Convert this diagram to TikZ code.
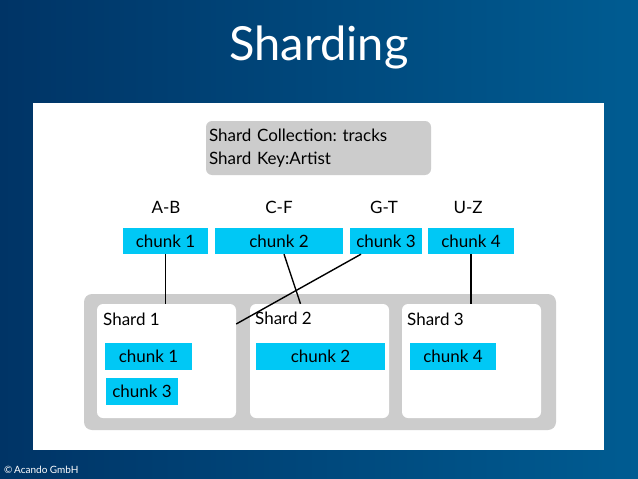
\documentclass[tikz,border=0pt]{standalone}
\usepackage{fontspec}
\setmainfont{Lato}
\usetikzlibrary{positioning}
\frenchspacing
\definecolor{bgdark}{RGB}{0,52,102}
\definecolor{bglight}{RGB}{0,92,146}
\definecolor{chunkblue}{RGB}{0,200,245}
\definecolor{boxgray}{RGB}{204,204,204}
\tikzset{
  txt/.style={font=\fontsize{17}{23}\selectfont},
  chunk/.style={txt,fill=chunkblue,minimum height=26pt,inner sep=0pt},
  shard/.style={fill=white,rounded corners=6pt,minimum width=139pt,minimum height=114pt,inner sep=0pt},
  lbl/.style={txt,inner sep=0pt,anchor=west},
  link/.style={line width=1.4pt}
}
\begin{document}
\begin{tikzpicture}[x=1pt,y=-1pt]
  \shade[left color=bgdark,right color=bglight] (0,0) rectangle (638,479);
  \fill[white] (33,103) rectangle (604,450);
  \node[text=white,font=\fontsize{47}{50}\selectfont] (title) at (319,47) {Sharding};
  \node[text=white,anchor=west,inner sep=0pt,font=\fontsize{10}{12}\selectfont] (copy) at (4,470) {\textcopyright\,Acando GmbH};

  \node[txt,fill=boxgray,rounded corners=6pt,minimum height=54pt,text width=219pt,inner sep=3pt,align=left] (coll) at (318.5,148) {Shard Collection: tracks\\Shard Key:Artist};

  \node[txt] (ab) at (166,207) {A-B};
  \node[txt] (cf) at (279,207) {C-F};
  \node[txt] (gt) at (384,207) {G-T};
  \node[txt] (uz) at (468,207) {U-Z};

  \node[chunk,minimum width=85pt] (k1) at (165.5,241) {chunk 1};
  \node[chunk,minimum width=128pt] (k2) at (279,241) {chunk 2};
  \node[chunk,minimum width=72pt] (k3) at (386,241) {chunk 3};
  \node[chunk,minimum width=86pt] (k4) at (471,241) {chunk 4};

  \fill[boxgray,rounded corners=8pt] (84,294) rectangle (556,430);
  \node[shard] (s1) at (166.5,361) {};
  \node[shard] (s2) at (319.5,361) {};
  \node[shard] (s3) at (471.5,361) {};
  \node[lbl] (s1t) at (103,319) {Shard 1};
  \node[lbl] (s2t) at (255,318) {Shard 2};
  \node[lbl] (s3t) at (407,319) {Shard 3};

  \node[chunk,minimum width=87pt,minimum height=27pt] (c1) at (148.5,356.5) {chunk 1};
  \node[chunk,minimum width=72pt,minimum height=27pt] (c3) at (142,391.5) {chunk 3};
  \node[chunk,minimum width=129pt,minimum height=27pt] (c2) at (320.5,356.5) {chunk 2};
  \node[chunk,minimum width=86pt,minimum height=27pt] (c4) at (453,356.5) {chunk 4};

  \draw[link](k1.south)--(k1.south |- s1.north);
  \draw[link]([xshift=5pt]k2.south)--([xshift=-19pt]s2.north);
  \draw[link]([xshift=-25pt]k3.south)--([yshift=37pt]s1.east);
  \draw[link](k4.south)--(k4.south |- s3.north);
\end{tikzpicture}
\end{document}
